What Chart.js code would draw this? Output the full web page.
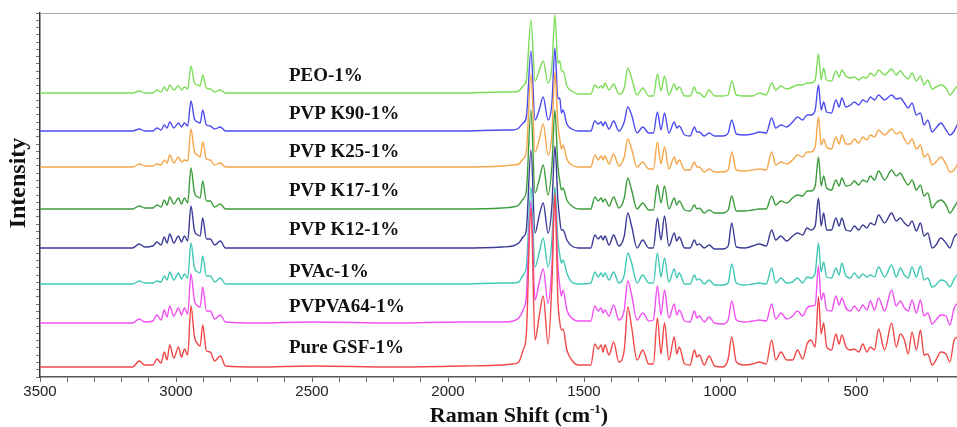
<!DOCTYPE html>
<html>
<head>
<meta charset="utf-8">
<script src="https://cdn.jsdelivr.net/npm/chart.js@4.4.1/dist/chart.umd.min.js"></script>
<style>
  html, body { margin: 0; padding: 0; background: #fff; overflow: hidden; width: 957px; height: 427px; }
  #wrap { width: 1000px; height: 427px; }
</style>
</head>
<body>
<div id="wrap"><canvas id="chartCanvas" width="1000" height="427"></canvas></div>
<script>
// Raman shift grid (cm-1), shared by all spectra
const wavenumbers = [
  3500, 3300, 3160, 3135, 3115, 3085, 3070, 3055, 3043, 3033, 3023, 3008, 2991, 2980, 2969, 2957, 2945, 2932, 2920, 2911, 2902, 2888, 2874, 2858, 2837, 2818, 2700, 2500, 2200, 1950, 1800,
  1762, 1740, 1724, 1712, 1695, 1680, 1665, 1650, 1632, 1618, 1607, 1596, 1589, 1583, 1577, 1563, 1545, 1520,
  1475, 1460, 1448, 1437, 1430, 1423, 1408, 1391, 1372, 1352, 1339, 1325, 1305, 1284, 1262, 1245, 1230, 1217, 1204, 1188, 1168, 1159, 1150, 1130, 1110, 1094, 1085, 1076, 1058, 1040, 1020, 990, 970, 957, 940,
  910, 880, 855, 830, 810, 795, 776, 755, 733, 715, 696, 680, 666, 650, 638, 628, 619, 608, 590, 574, 562, 552, 537, 520, 506, 490, 475, 460, 447, 432, 417, 395, 369, 352, 337, 322, 308, 294, 278, 263, 250, 236, 220, 206, 188, 169, 155, 139, 125
];

const seriesNames = ['PEO-1%', 'PVP K90-1%', 'PVP K25-1%', 'PVP K17-1%', 'PVP K12-1%', 'PVAc-1%', 'PVPVA64-1%', 'Pure GSF-1%'];
const seriesColors = ['#7ddc5a', '#4c4cf0', '#f5a54a', '#3c9c3c', '#3c3c96', '#40c8b4', '#f050f0', '#f04848'];
// vertical stacking offset of each trace
const stackOffsets = [284, 246, 210, 168, 129, 93, 54, 10];
const xTickLabels = [3500, 3000, 2500, 2000, 1500, 1000, 500];

// intensities above each trace's own baseline
const peo = [
  0,0,0,2,0,0,3,1,6,2, 8,3,7,3,6,4,27,10,8,7, 18,5,4,1,3,0,0,0,0,0, 1,
  1,2,7,13,73,12,22,32,10,27,78,30,32,22,22,7,2,-1,
  -1,8,5,7,5,10,3,9,-1,5, 25,15,-2,5,-3,-3,19,2,17,-2, 9,3,6,-3,-3,6,0,0,-4,3, -3,-3,-2,12,-2,
  -3,-3,0,-2,10,3,7,4,6,8, 8,10,10,13,39,13,25,13,12,22, 16,23,17,15,16,13,16,15,20,17, 23,18,24,18,22,17,14,20,12,17, 8,13,4,6,8,5,-2,3,8
];
const pvpK90 = [
  0,0,0,2,0,0,3,1,6,3, 9,3,8,4,8,5,30,12,9,8, 21,6,5,2,4,0,0,0,0,0, 1,
  1,3,8,14,80,11,21,34,11,28,83,32,33,18,21,7,2,0,
  0,10,7,9,5,9,2,10,0,9, 24,16,-2,4,-2,-2,19,1,18,-2, 9,3,5,-4,-5,4,-1,-1,-5,-2, -5,-5,-2,11,-3,
  -4,-3,-1,-2,13,3,6,4,9,14, 11,16,16,21,46,21,29,19,18,31, 24,33,24,26,29,26,31,29,34,31, 36,31,36,32,33,28,23,28,16,18, 6,11,-1,3,8,1,-4,0,8
];
const pvpK25 = [
  0,0,0,3,1,1,3,2,7,4, 12,4,10,5,7,6,38,15,12,10, 25,8,7,2,4,0,0,0,0,0, 1,
  2,3,8,15,93,15,27,43,12,33,95,43,28,18,22,8,2,0,
  0,12,7,11,7,11,3,13,1,10, 28,18,0,5,-2,-2,25,3,20,-2, 10,3,7,-3,-3,5,0,0,-5,-2, -5,-5,-3,15,-3,
  -4,-3,-2,-3,15,2,5,3,7,12, 10,15,15,20,50,22,28,20,18,30, 23,32,23,23,28,24,30,27,32,30, 37,32,38,33,35,28,23,28,18,22, 10,13,2,5,10,3,-5,-3,4
];
const pvpK17 = [
  0,0,0,3,1,1,4,2,9,4, 12,5,11,5,11,6,41,16,12,11, 28,8,8,2,5,0,0,0,0,0, 1,
  2,4,10,18,99,16,29,44,14,43,99,43,28,19,21,9,3,0,
  0,12,8,11,7,10,3,12,1,11, 31,19,0,6,-1,-1,24,6,23,0, 11,4,8,-1,-2,4,0,1,-4,-1, -4,-4,-1,13,-2,
  -2,-1,0,0,13,4,8,6,11,14, 13,18,18,23,52,23,33,21,19,29, 23,31,23,24,28,24,29,27,33,29, 38,29,39,33,36,29,24,29,19,24, 13,16,1,6,9,4,-4,2,8
];
const pvpK12 = [
  0,0,0,4,1,2,6,3,11,5, 14,5,12,6,12,7,42,17,13,12, 30,9,9,3,7,0,0,0,0,0, 1,
  2,5,11,18,98,15,32,45,15,42,102,48,28,18,18,8,2,0,
  0,13,9,12,8,12,3,13,2,12, 35,22,0,8,0,0,30,8,32,2, 15,7,11,0,0,8,3,4,0,3, -1,-1,2,25,1,
  0,2,4,2,18,8,12,7,12,15, 13,20,18,22,50,22,35,18,18,30, 22,30,18,17,22,18,23,20,25,23, 33,25,35,27,30,25,22,27,17,25, 12,15,0,3,10,5,0,11,15
];
const pvac = [
  0,0,0,3,1,1,3,2,8,4, 12,4,11,5,10,6,41,16,12,11, 28,8,8,2,6,0,0,0,0,0, 1,
  1,2,9,17,97,17,31,46,17,44,97,44,29,21,24,11,2,0,
  1,12,7,11,7,11,4,12,1,9, 31,21,1,9,1,1,31,7,26,2, 15,6,11,0,0,9,4,5,0,4, -1,-1,1,20,1,
  -1,0,1,0,16,1,6,1,2,6, 1,7,6,11,41,12,22,7,6,16, 9,21,8,6,11,6,10,7,9,7, 17,7,19,7,16,9,6,17,7,18, 4,6,-3,-1,4,2,-3,5,10
];
const pvpva64 = [
  0,0,0,4,1,2,8,3,13,6, 17,7,15,8,15,9,49,22,17,16, 36,12,12,4,8,1,0,1,0,1, 1,
  2,5,13,27,122,23,40,54,20,57,127,57,37,27,33,13,5,2,
  2,17,12,15,10,13,7,18,3,13, 42,28,3,10,2,3,37,8,33,5, 19,8,13,2,1,12,5,7,1,6, 0,-1,3,22,3,
  1,2,3,2,19,4,10,4,7,12, 7,15,17,18,57,23,30,13,12,27, 18,25,15,12,17,12,18,13,22,13, 25,12,33,17,22,15,12,23,10,23, 7,10,-1,3,8,7,-2,15,20
];
const pureGsf = [
  0,0,0,6,2,2,8,4,15,7, 22,9,20,10,18,12,61,30,23,21, 42,16,15,6,11,1,0,1,0,1, 2,
  3,5,17,33,159,27,50,71,23,83,174,67,45,37,38,17,7,2,
  2,23,18,22,15,22,12,25,5,17, 60,40,7,17,3,3,49,13,44,7, 30,13,20,3,2,17,10,12,2,11, 1,0,8,30,5,
  2,3,5,3,27,7,15,7,7,17, 8,23,27,20,70,33,44,20,17,33, 23,32,20,17,18,15,23,15,20,17, 38,17,44,20,33,27,13,35,17,37, 12,13,2,7,15,13,5,27,30
];
const seriesValues = [peo, pvpK90, pvpK25, pvpK17, pvpK12, pvac, pvpva64, pureGsf];

// where the trace names sit (x in cm-1, lift above baseline)
const labelAt = 2585;
const labelLift = [17, 17, 15, 18, 18, 12, 16, 19];

const serif = '"Liberation Serif", "Times New Roman", serif';

const annotate = {
  id: 'annotate',
  beforeDatasetsDraw(chart) {
    const { ctx, chartArea: a } = chart;
    ctx.save();
    ctx.strokeStyle = '#a8a8a8';
    ctx.lineWidth = 1;
    ctx.beginPath();
    ctx.moveTo(a.left, a.top + 0.5);
    ctx.lineTo(a.right, a.top + 0.5);
    ctx.stroke();
    ctx.restore();
  },
  afterDraw(chart) {
    const { ctx, scales: { x, y } } = chart;
    ctx.save();
    ctx.fillStyle = '#111';
    ctx.font = 'bold 19px ' + serif;
    ctx.textBaseline = 'middle';
    ctx.textAlign = 'left';
    seriesNames.forEach((name, i) => {
      ctx.fillText(name, x.getPixelForValue(labelAt), y.getPixelForValue(stackOffsets[i] + labelLift[i]));
    });

    // x title with superscript
    const big = 'bold 22px ' + serif, small = 'bold 13px ' + serif;
    const p1 = 'Raman Shift (cm', p2 = '-1', p3 = ')';
    ctx.font = big; const w1 = ctx.measureText(p1).width, w3 = ctx.measureText(p3).width;
    ctx.font = small; const w2 = ctx.measureText(p2).width;
    let tx = 519 - (w1 + w2 + w3) / 2;
    const ty = 422;
    ctx.textBaseline = 'alphabetic';
    ctx.font = big; ctx.fillText(p1, tx, ty); tx += w1;
    ctx.font = small; ctx.fillText(p2, tx, ty - 9); tx += w2;
    ctx.font = big; ctx.fillText(p3, tx, ty);

    // y title
    ctx.translate(19, 183);
    ctx.rotate(-Math.PI / 2);
    ctx.font = 'bold 24px ' + serif;
    ctx.textAlign = 'center';
    ctx.textBaseline = 'middle';
    ctx.fillText('Intensity', 0, 0);
    ctx.restore();
  }
};

const datasets = seriesNames.map((name, i) => ({
  label: name,
  data: wavenumbers.map((w, j) => ({ x: w, y: stackOffsets[i] + seriesValues[i][j] })),
  borderColor: seriesColors[i],
  borderWidth: 1.4,
  pointRadius: 0,
  cubicInterpolationMode: 'monotone',
  fill: false,
  order: seriesNames.length - 1 - i
}));

new Chart(document.getElementById('chartCanvas').getContext('2d'), {
  type: 'line',
  data: { datasets },
  options: {
    responsive: false,
    animation: false,
    events: [],
    layout: { padding: { top: 13, right: 8, left: 0, bottom: 0 } },
    plugins: { legend: { display: false }, tooltip: { enabled: false } },
    scales: {
      x: {
        type: 'linear',
        reverse: true,
        min: 0,
        max: 3500,
        afterFit: s => { s.height = 50; },
        border: { color: '#555', width: 1.5 },
        grid: { drawOnChartArea: false, tickLength: 5, color: '#666' },
        ticks: {
          stepSize: 100,
          autoSkip: false,
          maxRotation: 0,
          maxTicksLimit: 100,
          padding: 1,
          color: '#222',
          font: { family: '"Liberation Sans", Arial, sans-serif', size: 15 },
          callback: v => xTickLabels.includes(v) ? String(v) : ''
        }
      },
      y: {
        min: 0,
        max: 364,
        afterFit: s => { s.width = 40; },
        border: { color: '#333', width: 1.5 },
        grid: { drawOnChartArea: false, tickLength: 4, color: '#777' },
        ticks: { display: false, stepSize: 7.28, maxTicksLimit: 100 }
      }
    }
  },
  plugins: [annotate]
});
</script>
</body>
</html>
